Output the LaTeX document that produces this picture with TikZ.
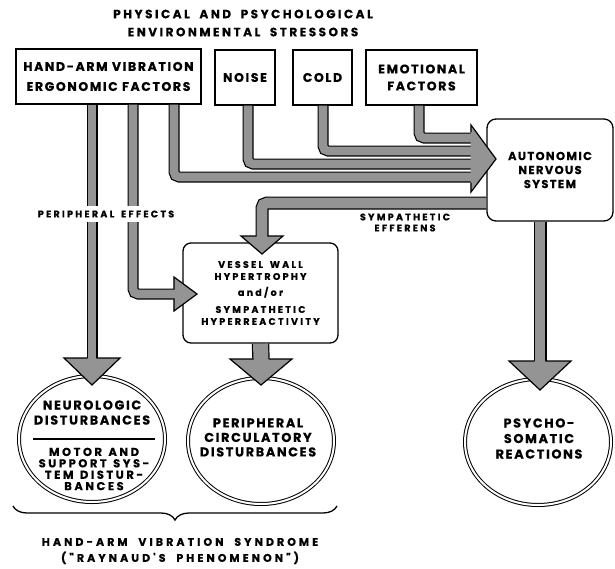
\documentclass[tikz,border=0pt]{standalone}
\usepackage{fontspec}
\newfontfamily\fntBox{Poppins}[LetterSpace=13, WordSpace=1.5, FakeBold=0.5]
\newfontfamily\fntTtl{Poppins}[LetterSpace=21, WordSpace=1.9, FakeBold=0.5]
\newfontfamily\fntSm{Poppins}[LetterSpace=24, WordSpace=1.6, FakeBold=0.8]
\newfontfamily\fntCi{Poppins}[LetterSpace=13, FakeBold=0.5]
\newfontfamily\fntMo{Poppins}[LetterSpace=22, WordSpace=1.3, FakeBold=0.5]
\newfontfamily\fntAn{Poppins}[LetterSpace=12, FakeBold=0.5]
\newfontfamily\fntBot{Poppins}[LetterSpace=28, WordSpace=2, FakeBold=0.6]
\usetikzlibrary{shapes.geometric,decorations.pathreplacing,calc}
\definecolor{pg}{gray}{0.58}
\tikzset{
  box/.style={draw, line width=1.3pt, inner sep=0, align=center},
  rbox/.style={box, rounded corners=9pt},
  pipe/.style={draw=black, line width=1.2pt, double=pg, double distance=8.6pt, rounded corners=5pt},
  widepipe/.style={pipe, double distance=10.6pt},
  fatpipe/.style={pipe, double distance=15pt},
  hl/.style={line width=1.2pt, line join=miter},
  ring/.style={ellipse, draw, line width=1pt, double, double distance=2pt, minimum width=146pt, minimum height=126pt, inner sep=0},
  tbig/.style={font=\fntBox\bfseries\fontsize{12.5}{20}\selectfont},
  ttl/.style={font=\fntTtl\bfseries\fontsize{12}{18}\selectfont, align=center, inner sep=0},
  tsm/.style={font=\fntSm\bfseries\fontsize{9.5}{12}\selectfont, align=center, inner sep=0},
  tci/.style={font=\fntCi\bfseries\fontsize{12.8}{15}\selectfont, align=center, inner sep=0},
  tmo/.style={font=\fntMo\bfseries\fontsize{11.5}{11.4}\selectfont, align=center, inner sep=0},
}
\newcommand\hdown[5]{%
  \fill[pg] ({#1-#4},#2) -- (#1,#3) -- ({#1+#4},#2) -- cycle;
  \draw[hl] ({#1-#5},#2) -- ({#1-#4},#2) -- (#1,#3) -- ({#1+#4},#2) -- ({#1+#5},#2);}
\begin{document}
\begin{tikzpicture}[x=1pt,y=-1pt]
\useasboundingbox (0,0) rectangle (615,568);
% title
\node[ttl] (title) at (243,23) {PHYSICAL AND PSYCHOLOGICAL\\ENVIRONMENTAL STRESSORS};
% boxes
\node[box, tbig, minimum width=185pt, minimum height=55pt] (ha) at (108.5,76.5) {HAND-ARM VIBRATION\\ERGONOMIC FACTORS};
\node[box, tbig, minimum width=60pt, minimum height=55pt] (noise) at (245,77.5) {NOISE};
\node[box, tbig, minimum width=59pt, minimum height=55pt] (cold) at (322.5,77.5) {COLD};
\node[box, font=\fntBox\bfseries\fontsize{12.5}{17}\selectfont, minimum width=111pt, minimum height=55pt] (emo) at (421.5,77.5) {EMOTIONAL\\FACTORS};
\node[rbox, font=\fntAn\bfseries\fontsize{11.5}{14}\selectfont, minimum width=126pt, minimum height=102pt] (ans) at (550,170) {AUTONOMIC\\NERVOUS\\SYSTEM};
\node[rbox, rounded corners=8pt, tsm, minimum width=155pt, minimum height=100pt] (vw) at (260.5,293) {VESSEL WALL\\HYPERTROPHY\\[4pt]{\fntSm\bfseries\fontsize{9.5}{12}\selectfont and/or}\\[5pt]SYMPATHETIC\\HYPERREACTIVITY};
% rings
\node[ring] (neuro) at (92,439) {};
\node[ring] (pcd) at (261,441) {};
\node[ring] (psy) at (538,442) {};
% pipe x positions
\coordinate (x1) at (92,0);
\coordinate (x2) at (133,0);
\coordinate (x3) at (174,0);
\coordinate (x4) at (248,0);
\coordinate (x5) at (323,0);
\coordinate (x6) at (419,0);
\coordinate (xa) at (540,0);
% pipes into ANS
\draw[pipe] (ha.south -| x3) |- (471,177);
\draw[pipe] (noise.south -| x4) |- (471,164);
\draw[pipe] (cold.south -| x5) |- (471,151);
\draw[pipe] (emo.south -| x6) |- (471,138);
\fill[pg] (470.6,125) -- (496,159) -- (470.6,192) -- cycle;
\draw[hl] (471,132.3) -- (471,125) -- (496,159) -- (471,192) -- (471,182.7);
% peripheral pipes
\draw[pipe] (ha.south -| x1) -- (92,358);
\hdown{92}{358}{385}{28}{4.3}
\draw[pipe] (ha.south -| x2) |- (174,294);
\fill[pg] (173.6,277) -- (197,294) -- (173.6,311) -- cycle;
\draw[hl] (174,289.7) -- (174,277) -- (197,294) -- (174,311) -- (174,298.3);
% sympathetic efferens
\draw[widepipe] (ans.west |- 0,203) -| (262,236);
\hdown{262}{236}{254}{21}{5.3}
% vessel -> pcd
\draw[fatpipe] (vw.south) -- (261,359);
\hdown{261}{359}{385}{31}{7.5}
% ans -> psy
\draw[widepipe] (ans.south -| xa) -- (540,361);
\hdown{540}{361}{390}{31}{5.3}
% labels on pipes
\node[tsm, fill=white, inner xsep=1pt, inner ysep=5pt] (pe) at (106,214) {PERIPHERAL EFFECTS};
\node[tsm, font=\fntSm\bfseries\fontsize{9.5}{11}\selectfont] (se) at (405,222.5) {SYMPATHETIC\\EFFERENS};
% ring texts
\node[tci] (nt) at (92,412.5) {NEUROLOGIC\\DISTURBANCES};
\draw[line width=1.5pt] ($(neuro.center)+(-59,0)$) -- ($(neuro.center)+(63,0)$);
\node[tmo] (mt) at (94,469) {MOTOR AND\\SUPPORT SYS-\\TEM DISTUR-\\BANCES};
\node[tci, font=\fntCi\bfseries\fontsize{12.8}{14.5}\selectfont] (pt) at (258,437.5) {PERIPHERAL\\CIRCULATORY\\DISTURBANCES};
\node[tci, font=\fntCi\bfseries\fontsize{12.8}{15.5}\selectfont] (st) at (539,438.5) {PSYCHO-\\SOMATIC\\REACTIONS};
% brace
\draw[line width=1.3pt, decorate, decoration={brace, mirror, amplitude=14pt}] (13,506) -- (337,506);
\node[font=\fntBot\bfseries\fontsize{11}{16}\selectfont, align=center, inner sep=0] (hav) at (180,551) {HAND-ARM VIBRATION SYNDROME\\("RAYNAUD'S PHENOMENON")};
\end{tikzpicture}
\end{document}
